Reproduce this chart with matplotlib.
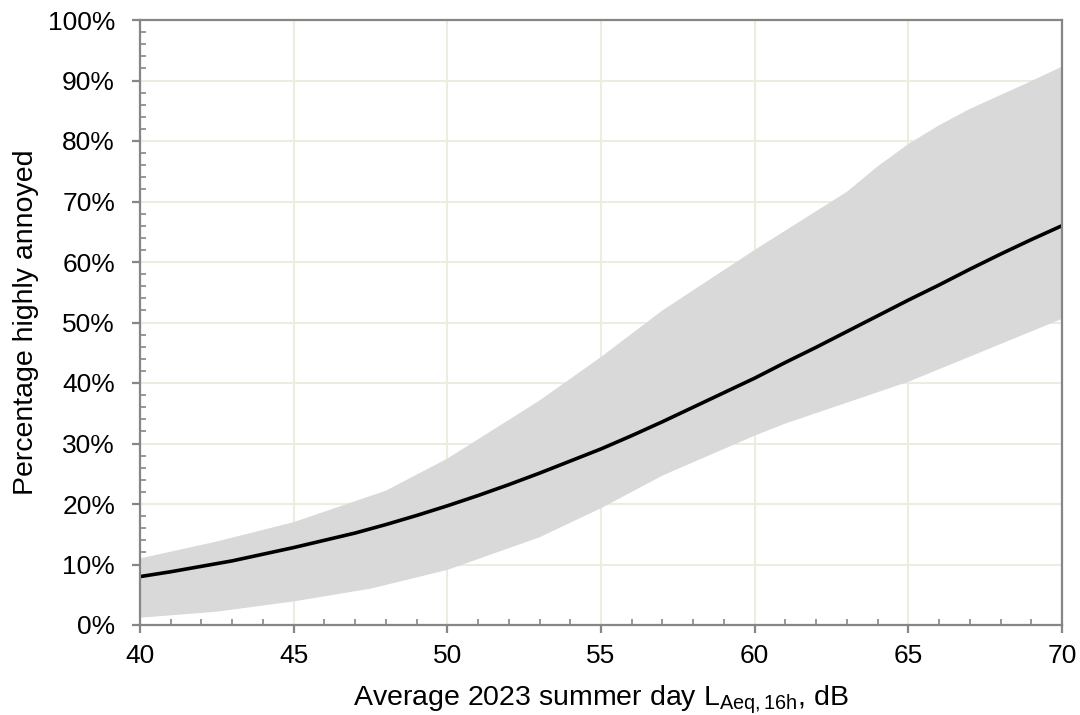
import matplotlib
matplotlib.use("Agg")
import matplotlib.pyplot as plt
from matplotlib.ticker import MultipleLocator, FuncFormatter

plt.rcParams['font.family'] = ['Liberation Sans', 'DejaVu Sans']
plt.rcParams['mathtext.fontset'] = 'custom'
plt.rcParams['mathtext.rm'] = 'Liberation Sans'
plt.rcParams['mathtext.it'] = 'Liberation Sans'

# Central exposure-response curve (dB, % highly annoyed)
level = list(range(40, 71))
pha = [8.0, 8.8, 9.7, 10.6, 11.7, 12.8, 14.0, 15.2, 16.6, 18.1,
       19.7, 21.4, 23.2, 25.1, 27.1, 29.1, 31.3, 33.6, 36.0, 38.4,
       40.8, 43.4, 45.9, 48.5, 51.1, 53.7, 56.2, 58.8, 61.3, 63.7, 66.0]

# Confidence band
band_upper_x = [40, 42.5, 45, 48, 50, 53, 55, 57, 60, 63, 64, 65, 66, 67, 68, 69, 70]
band_upper = [11.0, 13.8, 17.0, 22.2, 27.5, 37.1, 44.3, 52.0, 62.0, 71.6, 75.8, 79.5, 82.6, 85.3, 87.6, 89.9, 92.3]
band_lower_x = [40, 42.5, 45, 47.5, 50, 53, 55, 57, 60, 61, 65, 70]
band_lower = [1.2, 2.2, 3.9, 6.0, 9.1, 14.5, 19.3, 24.7, 31.3, 33.3, 40.2, 50.6]

x_label = 'Average 2023 summer day L$_{\\mathregular{Aeq,16h}}$, dB'
y_label = 'Percentage highly annoyed'

fig = plt.figure(figsize=(10.8, 7.15), dpi=100)
ax = fig.add_axes([140/1080, 1-625/715, (1062-140)/1080, (625-20)/715])

spine_col = '#868686'
grid_col = '#EEEBE0'

ax.fill(band_upper_x + band_lower_x[::-1], band_upper + band_lower[::-1],
        color='#D9D9D9', lw=0, zorder=2)
ax.plot(level, pha, color='black', lw=2.6, zorder=3, solid_capstyle='butt')

ax.set_xlim(40, 70)
ax.set_ylim(0, 100)
ax.xaxis.set_major_locator(MultipleLocator(5))
ax.xaxis.set_minor_locator(MultipleLocator(1))
ax.yaxis.set_major_locator(MultipleLocator(10))
ax.yaxis.set_minor_locator(MultipleLocator(2))
ax.yaxis.set_major_formatter(FuncFormatter(lambda v, p: f'{int(round(v))}%'))

ax.grid(True, which='major', color=grid_col, lw=1.5, zorder=0)
ax.set_axisbelow(True)

for s in ax.spines.values():
    s.set_color(spine_col)
    s.set_linewidth(1.6)
    s.set_zorder(4)

ax.tick_params(which='major', direction='out', length=6, width=1.6, color=spine_col,
               labelsize=19, labelcolor='black')
ax.tick_params(axis='y', which='major', pad=12)
ax.tick_params(axis='x', which='major', pad=8)
ax.tick_params(which='minor', direction='in', length=4, width=1.2, color=spine_col)
ax.tick_params(top=False, right=False, which='both')

ax.set_xlabel(x_label, fontsize=20.5, labelpad=11)
ax.set_ylabel(y_label, fontsize=20.5, labelpad=6)

fig.savefig('out.png', dpi=100)
